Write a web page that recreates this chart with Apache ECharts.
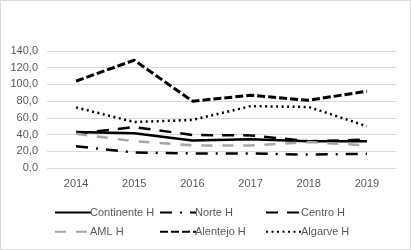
<!DOCTYPE html>
<html>
<head>
<meta charset="utf-8">
<script src="https://cdn.jsdelivr.net/npm/echarts@6/dist/echarts.min.js"></script>
<style>
  html, body { margin: 0; padding: 0; background: #fff; }
  #chart { width: 409px; height: 248px; border: 1px solid #d9d9d9; }
</style>
</head>
<body>
<div id="chart"></div>
<script>
// anos
var years = ['2014', '2015', '2016', '2017', '2018', '2019'];
var yTicks = [0, 20, 40, 60, 80, 100, 120, 140];

var continenteH = [43, 41.5, 33, 34.5, 32, 32];
var norteH = [26, 18.5, 17.5, 17.5, 16, 17];
var centroH = [41, 49, 39.5, 39, 32, 34];
var amlH = [41, 32, 27, 27, 31, 27];
var alentejoH = [104, 129, 80, 87, 81, 92];
var algarveH = [72.5, 55, 57.5, 74, 73, 50];

var txt = '#595959';
var font = 'Liberation Sans';

function mkSeries(name, data, color, type, width) {
    return {
        name: name,
        type: 'line',
        data: data,
        symbol: 'none',
        smooth: false,
        lineStyle: { color: color, width: width, type: type },
        itemStyle: { color: color }
    };
}

function mkLegend(names, left) {
    return {
        data: names,
        orient: 'vertical',
        left: left,
        top: 201,
        itemWidth: 36,
        itemHeight: 14,
        itemGap: 8,
        itemStyle: { opacity: 0 },
        textStyle: { color: txt, fontFamily: font, fontSize: 11, padding: [0, 0, 0, -6] }
    };
}

var chart = echarts.init(document.getElementById('chart'));
chart.setOption({
    animation: false,
    backgroundColor: '#fff',
    grid: { left: 46, right: 14, top: 50, bottom: 81 },
    legend: [
        mkLegend(['Continente H', 'AML H'], 48),
        mkLegend(['Norte H', 'Alentejo H'], 153),
        mkLegend(['Centro H', 'Algarve H'], 259)
    ],
    xAxis: {
        type: 'category',
        data: years,
        boundaryGap: true,
        axisLine: { show: false },
        axisTick: { show: false },
        axisLabel: { color: txt, fontFamily: font, fontSize: 11, margin: 10 }
    },
    yAxis: {
        type: 'value',
        min: yTicks[0],
        max: yTicks[yTicks.length - 1],
        interval: 20,
        axisLine: { show: false },
        axisTick: { show: false },
        splitLine: { lineStyle: { color: '#d9d9d9', width: 1 } },
        axisLabel: {
            color: txt, fontFamily: font, fontSize: 11, margin: 9,
            formatter: function (v) { return v.toFixed(1).replace('.', ','); }
        }
    },
    series: [
        mkSeries('Continente H', continenteH, '#000', 'solid', 2.5),
        mkSeries('Norte H', norteH, '#000', [12, 8, 2, 8], 2.5),
        mkSeries('Centro H', centroH, '#000', [12, 9], 2.5),
        mkSeries('AML H', amlH, '#a6a6a6', [11, 10], 2.5),
        mkSeries('Alentejo H', alentejoH, '#000', [8, 3], 3),
        mkSeries('Algarve H', algarveH, '#000', [2, 3.5], 2.5)
    ]
});
</script>
</body>
</html>
